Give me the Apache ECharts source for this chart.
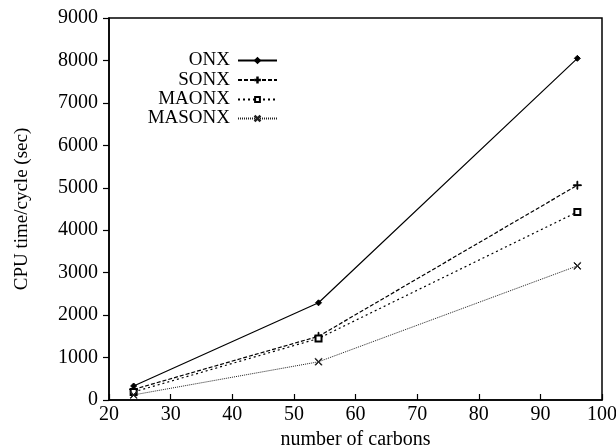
<!DOCTYPE html>
<html>
<head>
<meta charset="utf-8">
<script src="https://cdn.jsdelivr.net/npm/echarts@6/dist/echarts.min.js"></script>
<style>
  html, body { margin: 0; padding: 0; background: #fff; }
  #chart { width: 616px; height: 447px; }
</style>
</head>
<body>
<div id="chart"></div>
<script>
// number of carbons
var carbons = [24, 54, 96];
// CPU time/cycle (sec)
var onx = [330, 2290, 8050];
var sonx = [250, 1500, 5060];
var maonx = [190, 1450, 4430];
var masonx = [120, 900, 3160];
var names = ['ONX', 'SONX', 'MAONX', 'MASONX'];

var font = 'Liberation Serif';
var plusPath = 'path://M4.5,0 L5.5,0 L5.5,4.5 L10,4.5 L10,5.5 L5.5,5.5 L5.5,10 L4.5,10 L4.5,5.5 L0,5.5 L0,4.5 L4.5,4.5 Z';
var crossPath = 'path://M0.7,0 L5,4.3 L9.3,0 L10,0.7 L5.7,5 L10,9.3 L9.3,10 L5,5.7 L0.7,10 L0,9.3 L4.3,5 L0,0.7 Z';

function pairs(ys) {
  return carbons.map(function (c, i) { return [c, ys[i]]; });
}

var seriesDefs = [
  { name: names[0], data: onx, symbol: 'diamond', size: 6, line: 'solid', color: '#000', width: 1.2 },
  { name: names[1], data: sonx, symbol: plusPath, size: 8, line: [4, 2], color: '#000', width: 1.2 },
  { name: names[2], data: maonx, symbol: 'emptyRect', size: 6, line: [2, 3], color: '#000', width: 1.2 },
  { name: names[3], data: masonx, symbol: crossPath, size: 7, line: [1, 1], color: '#222', width: 1 }
];

var legendTops = [51, 70.5, 90, 109];
var legends = names.map(function (n, i) {
  return {
    data: [n],
    right: 338,
    top: legendTops[i],
    align: 'right',
    itemWidth: 39,
    itemHeight: 6,
    itemGap: 0,
    padding: 0,
    textStyle: { fontFamily: font, fontSize: 19, color: '#000', padding: [0, 3, 0, 0] },
    inactiveColor: '#000'
  };
});

var option = {
  backgroundColor: '#fff',
  animation: false,
  legend: legends,
  grid: {
    left: 109, right: 14, top: 18, bottom: 47,
    outerBoundsMode: 'none',
    containLabel: false,
    show: true, borderColor: '#000', borderWidth: 1.5, backgroundColor: 'transparent'
  },
  xAxis: {
    type: 'value',
    min: 20, max: 100, interval: 10,
    name: 'number of carbons',
    nameLocation: 'middle',
    nameGap: 23,
    nameTextStyle: { fontFamily: font, fontSize: 20, color: '#000' },
    axisLine: { lineStyle: { color: '#000', width: 1.5 } },
    axisTick: { inside: true, length: 6, lineStyle: { color: '#000', width: 1.2 } },
    axisLabel: { fontFamily: font, fontSize: 20, color: '#000', margin: 5 },
    splitLine: { show: false }
  },
  yAxis: {
    type: 'value',
    min: 0, max: 9000, interval: 1000,
    name: 'CPU time/cycle (sec)',
    nameLocation: 'middle',
    nameGap: 77,
    nameTextStyle: { fontFamily: font, fontSize: 19, color: '#000' },
    axisLine: { lineStyle: { color: '#000', width: 1.5 } },
    axisTick: { inside: false, length: 6, lineStyle: { color: '#000', width: 1.2 } },
    axisLabel: {
      fontFamily: font, fontSize: 20, color: '#000', margin: 11,
      formatter: function (v) { return String(v); }
    },
    splitLine: { show: false }
  },
  series: seriesDefs.map(function (s) {
    return {
      name: s.name,
      type: 'line',
      data: pairs(s.data),
      symbol: s.symbol,
      symbolSize: s.size,
      showSymbol: true,
      itemStyle: { color: s.color, borderColor: s.color, borderWidth: 1 },
      lineStyle: { color: s.color, width: s.width, type: s.line }
    };
  })
};

var chart = echarts.init(document.getElementById('chart'), null, { renderer: 'canvas' });
chart.setOption(option);
</script>
</body>
</html>
